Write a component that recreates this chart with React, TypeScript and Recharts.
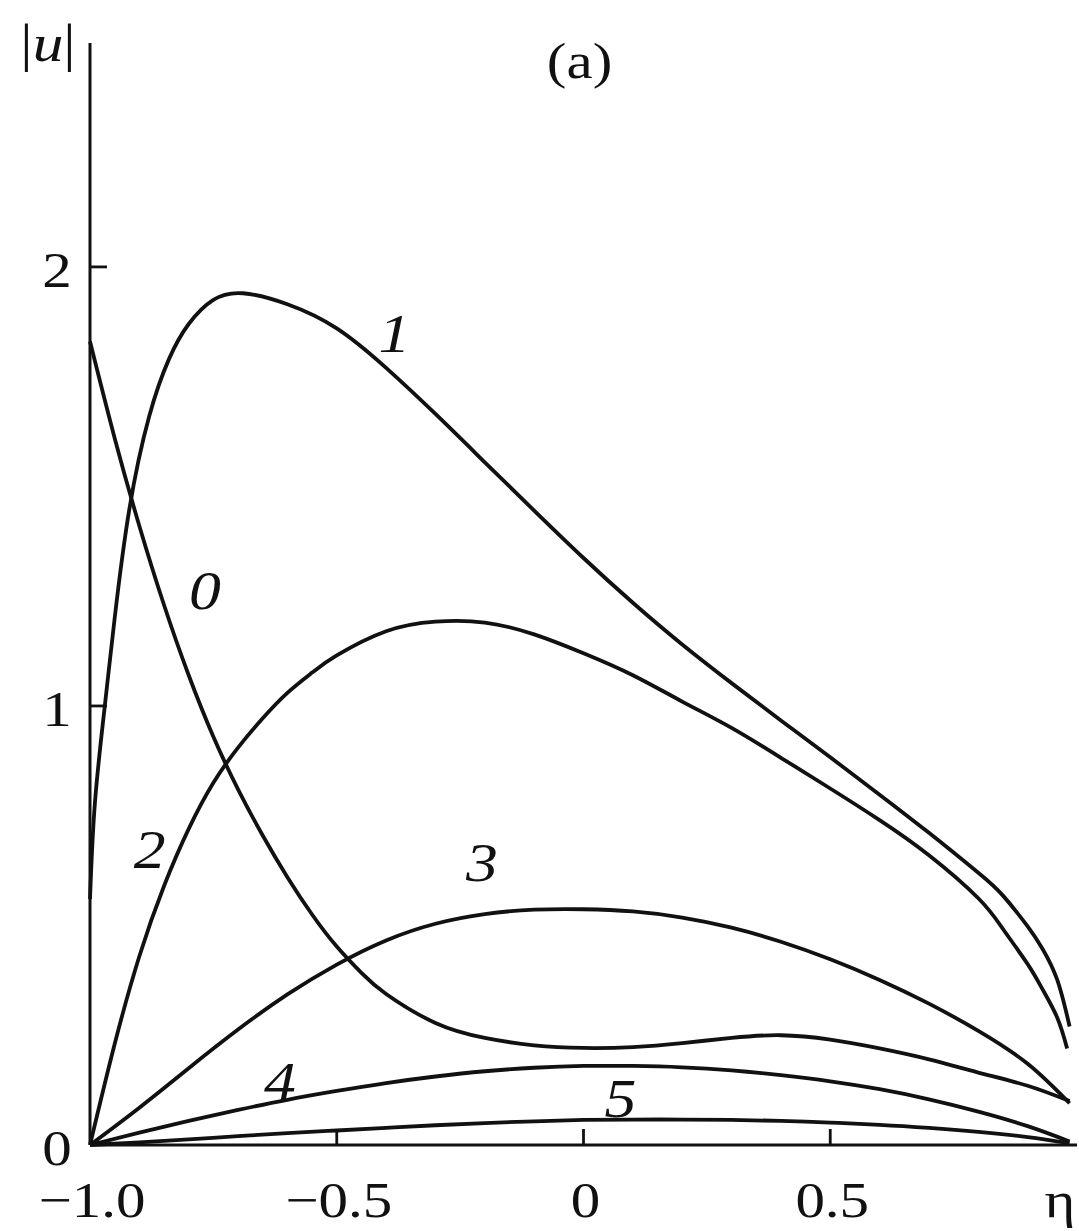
import { Line, LineChart, ReferenceDot, XAxis, YAxis } from "recharts";

const FONT = '"Liberation Serif", "Times New Roman", serif';
const INK = "#111";
// the scan is a little wider than plain Times, so text is stretched sideways
const STRETCH = 1.18;

const X_TICKS = [-1, -0.5, 0, 0.5, 1];
const X_TICK_LABELS = ["\u22121.0", "\u22120.5", "0", "0.5", "\u03b7"];
const Y_TICKS = [0, 1, 2];

const ETA_0 = [-1, -0.95, -0.9, -0.85, -0.8, -0.75, -0.7, -0.65, -0.6, -0.55, -0.5, -0.45, -0.4, -0.3, -0.2, -0.1, 0, 0.1, 0.2, 0.3, 0.4, 0.5, 0.6, 0.7, 0.8, 0.9, 0.985];
const U_0 = [1.83, 1.61, 1.41, 1.23, 1.07, 0.93, 0.81, 0.705, 0.61, 0.525, 0.452, 0.392, 0.344, 0.278, 0.244, 0.227, 0.221, 0.223, 0.232, 0.244, 0.25, 0.24, 0.22, 0.195, 0.165, 0.135, 0.1];

const ETA_1 = [-1, -0.99, -0.97, -0.95, -0.92, -0.88, -0.84, -0.8, -0.75, -0.69, -0.6, -0.5, -0.4, -0.3, -0.2, -0.1, 0, 0.1, 0.2, 0.3, 0.4, 0.5, 0.6, 0.7, 0.8, 0.85, 0.9, 0.93, 0.96, 0.985];
const U_1 = [0.56, 0.78, 1.0, 1.2, 1.45, 1.66, 1.79, 1.87, 1.925, 1.94, 1.915, 1.86, 1.77, 1.665, 1.555, 1.445, 1.337, 1.235, 1.14, 1.052, 0.967, 0.883, 0.798, 0.711, 0.62, 0.568, 0.498, 0.447, 0.376, 0.27];

const ETA_2 = [-1, -0.95, -0.9, -0.85, -0.8, -0.75, -0.7, -0.65, -0.6, -0.55, -0.5, -0.4, -0.3, -0.2, -0.1, 0, 0.1, 0.2, 0.3, 0.4, 0.5, 0.6, 0.7, 0.8, 0.85, 0.9, 0.93, 0.96, 0.98];
const U_2 = [0, 0.23, 0.43, 0.59, 0.72, 0.825, 0.905, 0.972, 1.03, 1.076, 1.115, 1.17, 1.192, 1.19, 1.163, 1.12, 1.07, 1.01, 0.95, 0.882, 0.812, 0.74, 0.66, 0.562, 0.492, 0.412, 0.355, 0.29, 0.22];

// curves 3-5 share one grid
const ETA_GRID = [-1, -0.9, -0.8, -0.7, -0.6, -0.5, -0.4, -0.3, -0.2, -0.1, 0, 0.1, 0.2, 0.3, 0.4, 0.5, 0.6, 0.7, 0.8, 0.9, 0.985];
const U_3 = [0, 0.085, 0.175, 0.263, 0.343, 0.411, 0.466, 0.504, 0.526, 0.536, 0.537, 0.532, 0.518, 0.495, 0.463, 0.423, 0.376, 0.322, 0.26, 0.185, 0.095];
const U_4 = [0, 0.028, 0.055, 0.08, 0.103, 0.123, 0.141, 0.156, 0.168, 0.176, 0.18, 0.18, 0.177, 0.17, 0.159, 0.145, 0.127, 0.104, 0.076, 0.043, 0.008];
const U_5 = [0, 0.006, 0.013, 0.02, 0.027, 0.033, 0.039, 0.045, 0.05, 0.054, 0.057, 0.058, 0.058, 0.057, 0.055, 0.051, 0.046, 0.039, 0.03, 0.018, 0.004];

// curve number labels, in data coordinates (eta, |u|)
const CURVE_LABELS = [
  { text: "1", eta: -0.383, u: 1.85 },
  { text: "0", eta: -0.767, u: 1.265 },
  { text: "2", eta: -0.879, u: 0.675 },
  { text: "3", eta: -0.206, u: 0.645 },
  { text: "4", eta: -0.615, u: 0.145 },
  { text: "5", eta: 0.075, u: 0.107 },
];

const toPoints = (eta: number[], u: number[]) =>
  eta.map((e, i) => ({ eta: e, u: u[i] }));

const SERIES = [
  { name: "0", data: toPoints(ETA_0, U_0) },
  { name: "1", data: toPoints(ETA_1, U_1) },
  { name: "2", data: toPoints(ETA_2, U_2) },
  { name: "3", data: toPoints(ETA_GRID, U_3) },
  { name: "4", data: toPoints(ETA_GRID, U_4) },
  { name: "5", data: toPoints(ETA_GRID, U_5) },
];

function StretchText({
  x,
  y,
  size,
  italic,
  children,
}: {
  x: number;
  y: number;
  size: number;
  italic?: boolean;
  children: React.ReactNode;
}) {
  return (
    <text
      transform={`translate(${x},${y}) scale(${STRETCH},1)`}
      textAnchor="middle"
      fontFamily={FONT}
      fontSize={size}
      fontStyle={italic ? "italic" : "normal"}
      fill={INK}
    >
      {children}
    </text>
  );
}

function EtaTick({ x, y, payload }: any) {
  const v = payload.value as number;
  const label = X_TICK_LABELS[X_TICKS.indexOf(v)];
  const inner = v > -1 && v < 1;
  return (
    <g>
      {inner && (
        <line x1={x} x2={x} y1={y} y2={y - 16} stroke={INK} strokeWidth={2.8} />
      )}
      <StretchText x={v === 1 ? x - 17 : x + 2} y={y + 72} size={50}>
        {label}
      </StretchText>
    </g>
  );
}

function UTick({ x, y, payload }: any) {
  const v = payload.value as number;
  return (
    <g>
      {v > 0 && (
        <line x1={x} x2={x + 17} y1={y} y2={y} stroke={INK} strokeWidth={2.8} />
      )}
      <StretchText x={x - 33} y={y + 20} size={50}>
        {v}
      </StretchText>
    </g>
  );
}

export default function App() {
  return (
    <div
      style={{
        position: "absolute",
        left: 0,
        top: 0,
        width: 1079,
        height: 1231,
        background: "#fff",
      }}
    >
      <LineChart
        width={1079}
        height={1231}
        margin={{ top: 43, right: 2, left: 30, bottom: 56 }}
      >
        <XAxis
          type="number"
          dataKey="eta"
          domain={[-1, 1]}
          ticks={X_TICKS}
          tick={<EtaTick />}
          tickSize={0}
          tickMargin={0}
          tickLine={false}
          height={30}
          axisLine={{ stroke: INK, strokeWidth: 3 }}
          interval={0}
        />
        <YAxis
          type="number"
          domain={[0, 2.51]}
          ticks={Y_TICKS}
          tick={<UTick />}
          tickSize={0}
          tickMargin={0}
          tickLine={false}
          width={60}
          axisLine={{ stroke: INK, strokeWidth: 3 }}
          interval={0}
        />
        {SERIES.map((s) => (
          <Line
            key={s.name}
            name={s.name}
            data={s.data}
            dataKey="u"
            type="natural"
            stroke={INK}
            strokeWidth={3.8}
            dot={false}
            activeDot={false}
            isAnimationActive={false}
          />
        ))}
        {CURVE_LABELS.map((l) => (
          <ReferenceDot
            key={l.text}
            x={l.eta}
            y={l.u}
            r={0}
            ifOverflow="visible"
            shape={(p: any) => (
              <StretchText x={p.cx} y={p.cy + 19} size={54} italic>
                {l.text}
              </StretchText>
            )}
          />
        ))}
        {/* axis title |u| at the top of the vertical axis */}
        <ReferenceDot
          x={-1}
          y={2.51}
          r={0}
          ifOverflow="visible"
          shape={(p: any) => (
            <StretchText x={p.cx - 42} y={p.cy + 18} size={52}>
              |<tspan fontStyle="italic">u</tspan>|
            </StretchText>
          )}
        />
        {/* panel mark */}
        <ReferenceDot
          x={-0.008}
          y={2.476}
          r={0}
          ifOverflow="visible"
          shape={(p: any) => (
            <StretchText x={p.cx} y={p.cy + 20} size={50}>
              (a)
            </StretchText>
          )}
        />
      </LineChart>
    </div>
  );
}
